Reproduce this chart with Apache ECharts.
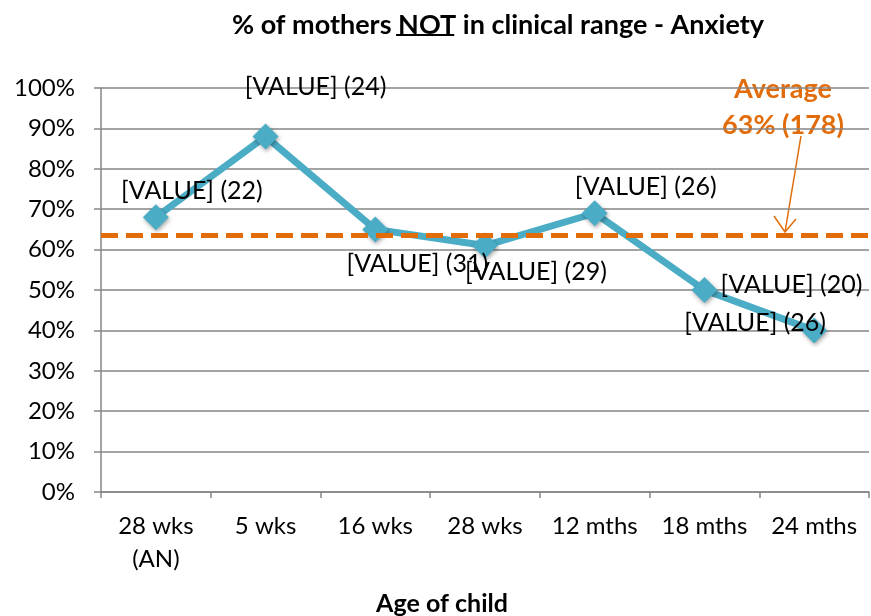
<!DOCTYPE html>
<html>
<head>
<meta charset="utf-8">
<script src="https://cdn.jsdelivr.net/npm/echarts@6/dist/echarts.min.js"></script>
<style>
  html, body { margin: 0; padding: 0; background: #fff; }
  #main { width: 871px; height: 616px; }
</style>
</head>
<body>
<div id="main"></div>
<script>
var categories = ["28 wks\n(AN)", "5 wks", "16 wks", "28 wks", "12 mths", "18 mths", "24 mths"];
var percents = [68, 88, 65, 61, 69, 50, 40];
var counts = [22, 24, 31, 29, 26, 20, 26];
var average = 63.5;
var averageText = "Average\n63% (178)";
var yTicks = [0, 10, 20, 30, 40, 50, 60, 70, 80, 90, 100];

// where each point label sits, relative to its marker
var labelOffsets = [[36, -26], [50, -50], [42, 35], [51, 26], [51, -26], [87, -5], [-59, -7]];

var font = "Lato, 'Open Sans', sans-serif";
var titleSize = 27;
var titleX = 493;

// measure where "NOT" falls in the title so it can be underlined
var ctx = document.createElement("canvas").getContext("2d");
ctx.font = "bold " + titleSize + "px " + font;
var tPre = "% of mothers ", tNot = "NOT", tPost = " in clinical range - Anxiety";
var wPre = ctx.measureText(tPre).width;
var wNot = ctx.measureText(tNot).width;
var wAll = ctx.measureText(tPre + tNot + tPost).width;
var notX1 = titleX - wAll / 2 + wPre + 3;
var notX2 = notX1 + wNot;

var chartDom = document.getElementById("main");
var myChart = echarts.init(chartDom);
var option;

var lineData = percents.map(function (v, i) {
  return {
    value: v,
    label: {
      show: true,
      position: "inside",
      offset: labelOffsets[i],
      formatter: "[VALUE] (" + counts[i] + ")"
    }
  };
});

option = {
  animation: false,
  backgroundColor: "#fff",
  title: [
    {
      text: tPre + tNot + tPost,
      left: titleX,
      top: 7,
      textAlign: "center",
      textStyle: { fontFamily: font, fontSize: titleSize, fontWeight: "bold", color: "#000" }
    },
    {
      text: "Age of child",
      left: 437,
      top: 586,
      textAlign: "center",
      textStyle: { fontFamily: font, fontSize: 25, fontWeight: "bold", color: "#000" }
    }
  ],
  grid: { left: 101, right: 2, top: 88, bottom: 124, containLabel: false },
  xAxis: {
    type: "category",
    data: categories,
    boundaryGap: true,
    axisLine: { lineStyle: { color: "#868686", width: 1.5 } },
    axisTick: { show: true, length: 6, lineStyle: { color: "#868686", width: 1.5 } },
    axisLabel: {
      fontFamily: font,
      fontSize: 24,
      color: "#000",
      margin: 18,
      lineHeight: 33,
      interval: 0
    }
  },
  yAxis: {
    type: "value",
    min: yTicks[0],
    max: yTicks[yTicks.length - 1],
    interval: 10,
    axisLine: { show: true, lineStyle: { color: "#868686", width: 1.5 } },
    axisTick: { show: true, length: 7, lineStyle: { color: "#868686", width: 1.5 } },
    splitLine: { lineStyle: { color: "#868686", width: 1.5 } },
    axisLabel: {
      fontFamily: font,
      fontSize: 24,
      color: "#000",
      margin: 26,
      formatter: "{value}%"
    }
  },
  series: [
    {
      name: "Anxiety",
      type: "line",
      data: lineData,
      z: 2,
      lineStyle: { color: "#4BACC6", width: 7 },
      itemStyle: {
        color: "#4BACC6",
        shadowColor: "rgba(0,0,0,0.35)",
        shadowBlur: 4,
        shadowOffsetX: 1,
        shadowOffsetY: 2
      },
      symbol: "diamond",
      symbolSize: 26,
      label: {
        fontFamily: font,
        fontSize: 25,
        color: "#000"
      }
    },
    {
      name: "Average",
      type: "line",
      data: [],
      z: 3,
      markLine: {
        silent: true,
        symbol: ["none", "none"],
        label: { show: false },
        lineStyle: { color: "#E36C0A", width: 5, type: [17, 8] },
        data: [{ yAxis: average }]
      }
    }
  ],
  graphic: [
    {
      type: "line",
      shape: { x1: notX1, y1: 35, x2: notX2, y2: 35 },
      style: { stroke: "#000", lineWidth: 2 }
    },
    {
      type: "text",
      x: 783,
      y: 71,
      style: {
        text: averageText,
        align: "center",
        verticalAlign: "top",
        fontFamily: font,
        fontSize: 27,
        fontWeight: "bold",
        lineHeight: 36,
        fill: "#E36C0A"
      }
    },
    {
      type: "line",
      shape: { x1: 801, y1: 136, x2: 785, y2: 232 },
      style: { stroke: "#E36C0A", lineWidth: 1.5 }
    },
    {
      type: "polyline",
      shape: { points: [[774, 216], [785, 232], [796, 219]] },
      style: { stroke: "#E36C0A", lineWidth: 1.5, fill: null }
    }
  ]
};

option && myChart.setOption(option);
</script>
</body>
</html>
